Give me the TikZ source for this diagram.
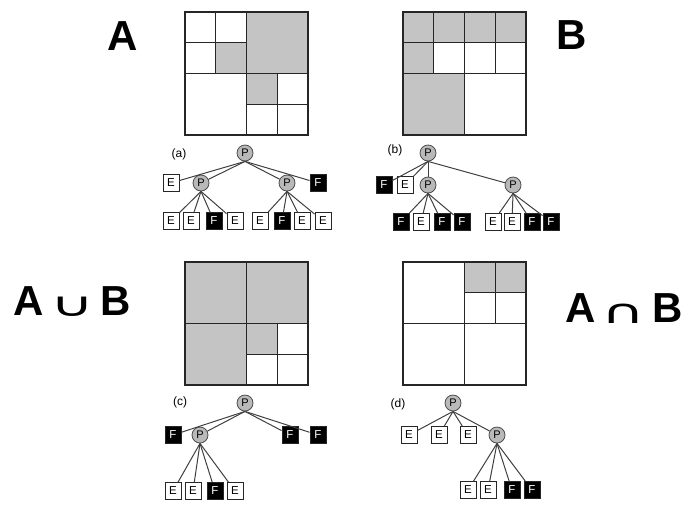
\documentclass[tikz,border=0pt]{standalone}
\usepackage{fontspec}
\usepackage{graphicx}
\setmainfont{Liberation Sans}
\newfontfamily\symfont{DejaVu Sans}
\definecolor{shade}{RGB}{196,196,196}
\definecolor{pgray}{RGB}{185,185,185}
\tikzset{
  quadline/.style={line width=1.2pt, draw=black!85},
  shadecell/.style={fill=shade},
  pnode/.style={circle, draw=black!70, fill=pgray, line width=0.8pt, minimum size=16pt, inner sep=0pt, font=\fontsize{11}{11}\selectfont},
  enode/.style={rectangle, draw=black!85, fill=white, line width=0.9pt, minimum width=16pt, minimum height=17pt, inner sep=0pt, font=\fontsize{11.5}{11.5}\selectfont},
  fnode/.style={enode, fill=black, text=white},
  treeedge/.style={line width=1pt, draw=black!75},
  sublabel/.style={inner sep=0pt, font=\fontsize{12}{12}\selectfont},
  biglabel/.style={anchor=base, inner sep=0pt, font=\fontsize{42}{42}\selectfont\bfseries},
  biglsym/.style={anchor=base, inner sep=0pt, font=\fontsize{60}{60}\symfont},
}
\begin{document}
\begin{tikzpicture}[x=1pt,y=-1pt]
\useasboundingbox (0,0) rectangle (684,504);

% ---------- big labels ----------
\node[biglabel] (labA) at (123,50) {A};
\node[biglabel] (labB) at (572,49) {B};
\node[biglabel] (uA) at (29,315) {A};
\node[biglsym]  (uS) at (72,316) {\scalebox{1}[0.56]{∪}};
\node[biglabel] (uB) at (115.5,315) {B};
\node[biglabel] (iA) at (581,322) {A};
\node[biglsym]  (iS) at (623.5,323) {\scalebox{1}[0.56]{∩}};
\node[biglabel] (iB) at (667.5,322) {B};

% ---------- quadrant A ----------
\begin{scope}[shift={(185pt,-12pt)}, x=30.75pt, y=-30.75pt]
  \fill[shadecell] (2,0) rectangle (4,2);
  \fill[shadecell] (1,1) rectangle (2,2);
  \fill[shadecell] (2,2) rectangle (3,3);
  \draw[quadline] (0,0) rectangle (4,4);
  \draw[quadline] (2,0) -- (2,4) (0,2) -- (4,2);
  \draw[quadline] (1,0) -- (1,2) (0,1) -- (2,1);
  \draw[quadline] (3,2) -- (3,4) (2,3) -- (4,3);
\end{scope}

% ---------- quadrant B ----------
\begin{scope}[shift={(403pt,-12pt)}, x=30.75pt, y=-30.75pt]
  \fill[shadecell] (0,0) rectangle (4,1);
  \fill[shadecell] (0,1) rectangle (1,2);
  \fill[shadecell] (0,2) rectangle (2,4);
  \draw[quadline] (0,0) rectangle (4,4);
  \draw[quadline] (2,0) -- (2,4) (0,2) -- (4,2);
  \draw[quadline] (1,0) -- (1,2) (3,0) -- (3,2) (0,1) -- (4,1);
\end{scope}

% ---------- quadrant C ----------
\begin{scope}[shift={(185pt,-262pt)}, x=30.75pt, y=-30.75pt]
  \fill[shadecell] (0,0) rectangle (4,2);
  \fill[shadecell] (0,2) rectangle (2,4);
  \fill[shadecell] (2,2) rectangle (3,3);
  \draw[quadline] (0,0) rectangle (4,4);
  \draw[quadline] (2,0) -- (2,4) (0,2) -- (4,2);
  \draw[quadline] (3,2) -- (3,4) (2,3) -- (4,3);
\end{scope}

% ---------- quadrant D ----------
\begin{scope}[shift={(403pt,-262pt)}, x=30.75pt, y=-30.75pt]
  \fill[shadecell] (2,0) rectangle (4,1);
  \draw[quadline] (0,0) rectangle (4,4);
  \draw[quadline] (2,0) -- (2,4) (0,2) -- (4,2);
  \draw[quadline] (3,0) -- (3,2) (2,1) -- (4,1);
\end{scope}

% ---------- tree (a) ----------
\node[sublabel] (la) at (179,154) {(a)};
\node[pnode] (ar) at (245,153) {P};
\node[enode] (a1) at (171,183) {E};
\node[pnode] (a2) at (201,183) {P};
\node[pnode] (a3) at (287,183) {P};
\node[fnode] (a4) at (318,183) {F};
\node[enode] (a21) at (171,221) {E};
\node[enode] (a22) at (191,221) {E};
\node[fnode] (a23) at (214,221) {F};
\node[enode] (a24) at (235,221) {E};
\node[enode] (a31) at (260,221) {E};
\node[fnode] (a32) at (282,221) {F};
\node[enode] (a33) at (302,221) {E};
\node[enode] (a34) at (323,221) {E};
\foreach \c in {a1,a2,a3,a4} \draw[treeedge] (ar.south) -- (\c);
\foreach \c in {a21,a22,a23,a24} \draw[treeedge] (a2.south) -- (\c);
\foreach \c in {a31,a32,a33,a34} \draw[treeedge] (a3.south) -- (\c);

% ---------- tree (b) ----------
\node[sublabel] (lb) at (395,150) {(b)};
\node[pnode] (br) at (428,153) {P};
\node[fnode] (b1) at (384,185) {F};
\node[enode] (b2) at (405,185) {E};
\node[pnode] (b3) at (428,185) {P};
\node[pnode] (b4) at (513,185) {P};
\node[fnode] (b31) at (401,222) {F};
\node[enode] (b32) at (421,222) {E};
\node[fnode] (b33) at (442,222) {F};
\node[fnode] (b34) at (462,222) {F};
\node[enode] (b41) at (493,222) {E};
\node[enode] (b42) at (512,222) {E};
\node[fnode] (b43) at (532,222) {F};
\node[fnode] (b44) at (551,222) {F};
\foreach \c in {b1,b2,b3,b4} \draw[treeedge] (br.south) -- (\c);
\foreach \c in {b31,b32,b33,b34} \draw[treeedge] (b3.south) -- (\c);
\foreach \c in {b41,b42,b43,b44} \draw[treeedge] (b4.south) -- (\c);

% ---------- tree (c) ----------
\node[sublabel] (lc) at (180,402) {(c)};
\node[pnode] (cr) at (245,403) {P};
\node[fnode] (c1) at (173,435) {F};
\node[pnode] (c2) at (200,435) {P};
\node[fnode] (c3) at (290,435) {F};
\node[fnode] (c4) at (318,435) {F};
\node[enode] (c21) at (173,491) {E};
\node[enode] (c22) at (193,491) {E};
\node[fnode] (c23) at (215,491) {F};
\node[enode] (c24) at (235,491) {E};
\foreach \c in {c1,c2,c3,c4} \draw[treeedge] (cr.south) -- (\c);
\foreach \c in {c21,c22,c23,c24} \draw[treeedge] (c2.south) -- (\c);

% ---------- tree (d) ----------
\node[sublabel] (ld) at (398,404) {(d)};
\node[pnode] (dr) at (453,403) {P};
\node[enode] (d1) at (409,435) {E};
\node[enode] (d2) at (439,435) {E};
\node[enode] (d3) at (468,435) {E};
\node[pnode] (d4) at (497,435) {P};
\node[enode] (d41) at (468,490) {E};
\node[enode] (d42) at (488,490) {E};
\node[fnode] (d43) at (512,490) {F};
\node[fnode] (d44) at (532,490) {F};
\foreach \c in {d1,d2,d3,d4} \draw[treeedge] (dr.south) -- (\c);
\foreach \c in {d41,d42,d43,d44} \draw[treeedge] (d4.south) -- (\c);
\end{tikzpicture}
\end{document}
